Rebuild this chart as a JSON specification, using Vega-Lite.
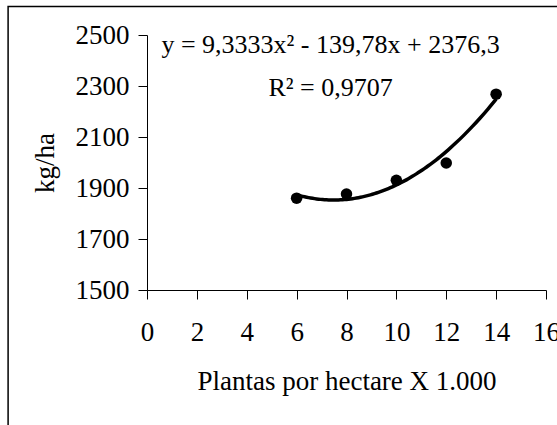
{
  "$schema": "https://vega.github.io/schema/vega-lite/v6.json",
  "width": 399,
  "height": 255,
  "autosize": "none",
  "padding": {"left": 147, "top": 35, "right": 11, "bottom": 135},
  "background": "white",
  "config": {
    "view": {"stroke": null},
    "font": "Liberation Serif",
    "axis": {
      "grid": false,
      "domainColor": "black",
      "tickColor": "black",
      "labelColor": "black",
      "titleColor": "black",
      "labelFont": "Liberation Serif",
      "titleFont": "Liberation Serif",
      "labelFontSize": 27,
      "titleFontSize": 27,
      "titleFontWeight": "normal",
      "tickSize": 9,
      "domainWidth": 1,
      "tickWidth": 1
    }
  },
  "data": {
    "values": [
      {"plantas": 6, "kg": 1860},
      {"plantas": 8, "kg": 1876},
      {"plantas": 10, "kg": 1930},
      {"plantas": 12, "kg": 1998},
      {"plantas": 14, "kg": 2268}
    ]
  },
  "layer": [
    {
      "data": {"values": [{"frame": 1}]},
      "mark": {"type": "rect", "fill": null, "stroke": "black", "strokeWidth": 1.5, "clip": false},
      "encoding": {
        "x": {"datum": -5.57, "type": "quantitative", "scale": {"domain": [0, 16], "nice": false}},
        "x2": {"datum": 17.5},
        "y": {"datum": 2612, "type": "quantitative", "scale": {"domain": [1500, 2500], "nice": false}},
        "y2": {"datum": 800}
      }
    },
    {
      "transform": [
        {"regression": "kg", "on": "plantas", "method": "poly", "order": 2, "extent": [6, 14]}
      ],
      "mark": {"type": "line", "color": "black", "strokeWidth": 3.5, "interpolate": "monotone"},
      "encoding": {
        "x": {"field": "plantas", "type": "quantitative"},
        "y": {"field": "kg", "type": "quantitative"}
      }
    },
    {
      "mark": {"type": "point", "filled": true, "color": "black", "opacity": 1, "size": 133},
      "encoding": {
        "x": {
          "field": "plantas",
          "type": "quantitative",
          "scale": {"domain": [0, 16], "nice": false},
          "axis": {
            "values": [0, 2, 4, 6, 8, 10, 12, 14, 16],
            "format": "d",
            "labelPadding": 20,
            "title": "Plantas por hectare X 1.000",
            "titlePadding": 23,
            "labelOverlap": false,
            "labelFlush": false
          }
        },
        "y": {
          "field": "kg",
          "type": "quantitative",
          "scale": {"domain": [1500, 2500], "nice": false},
          "axis": {
            "values": [1500, 1700, 1900, 2100, 2300, 2500],
            "format": "d",
            "labelPadding": 9,
            "title": "kg/ha",
            "titlePadding": 16,
            "labelOverlap": false,
            "labelFlush": false
          }
        }
      }
    },
    {
      "data": {"values": [{"eq": "y = 9,3333x² - 139,78x + 2376,3"}]},
      "mark": {"type": "text", "fontSize": 26, "font": "Liberation Serif", "color": "black", "align": "center", "baseline": "alphabetic"},
      "encoding": {
        "x": {"datum": 7.36, "type": "quantitative"},
        "y": {"datum": 2429, "type": "quantitative"},
        "text": {"field": "eq"}
      }
    },
    {
      "data": {"values": [{"r2": "R² = 0,9707"}]},
      "mark": {"type": "text", "fontSize": 26, "font": "Liberation Serif", "color": "black", "align": "center", "baseline": "alphabetic"},
      "encoding": {
        "x": {"datum": 7.36, "type": "quantitative"},
        "y": {"datum": 2261, "type": "quantitative"},
        "text": {"field": "r2"}
      }
    }
  ]
}
